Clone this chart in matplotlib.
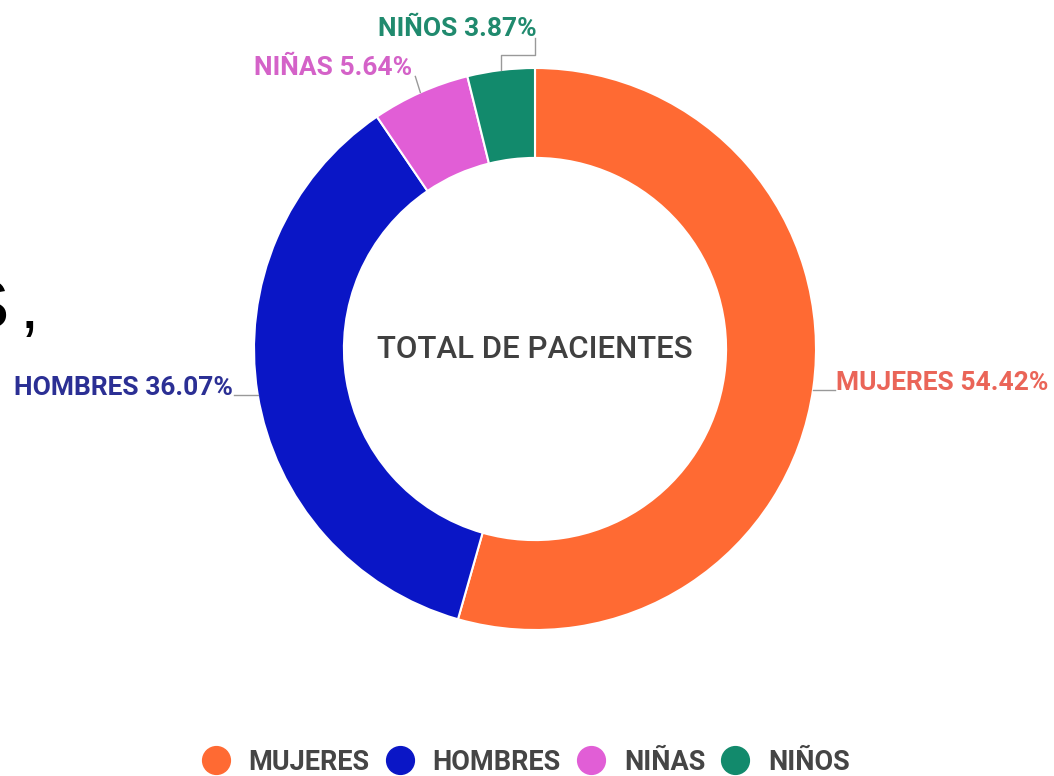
import numpy as np
import matplotlib
matplotlib.use("Agg")
import matplotlib.pyplot as plt
from matplotlib.lines import Line2D

categories = ["MUJERES", "HOMBRES", "NIÑAS", "NIÑOS"]
values = [54.42, 36.07, 5.64, 3.87]
colors = ["#FF6A33", "#0A16C6", "#E15ED6", "#128A6C"]
label_colors = ["#EA6558", "#2B2F94", "#D462C8", "#208A6E"]
center_title = "TOTAL DE PACIENTES"

W, H = 1054, 776
fig = plt.figure(figsize=(W / 100, H / 100), dpi=100)
ax = fig.add_axes([0, 0, 1, 1])
ax.set_xlim(0, W)
ax.set_ylim(0, H)
ax.set_aspect("equal")
ax.axis("off")

cx, cy, R = 535, H - 349, 281
wedges, _ = ax.pie(values, colors=colors, startangle=90, counterclock=False,
                   center=(cx, cy), radius=R, frame=True,
                   wedgeprops=dict(width=R * 0.32, edgecolor="white", linewidth=1.5))
ax.set_xlim(0, W)
ax.set_ylim(0, H)
ax.axis("off")

ax.text(cx, cy, center_title, ha="center", va="center", fontsize=22.5,
        family="Roboto", weight="medium", color="#404040")

fs = 19
lw = 1.0
for i, w in enumerate(wedges):
    ang = np.deg2rad((w.theta1 + w.theta2) / 2)
    px, py = cx + R * np.cos(ang), cy + R * np.sin(ang)
    txt = f"{categories[i]} {values[i]:.2f}%"
    lc = label_colors[i]
    if i == 0:
        ly = py - 2
        ax.plot([px, px + 22], [ly, ly], color="#999999", lw=lw)
        ax.text(px + 23, ly, txt, ha="left", va="baseline", fontsize=fs,
                family="Roboto", weight="bold", color=lc)
    elif i == 1:
        ly = py - 1
        ax.plot([px - 24, px], [ly, ly], color="#999999", lw=lw)
        ax.text(px - 25, ly, txt, ha="right", va="baseline", fontsize=fs,
                family="Roboto", weight="bold", color=lc)
    elif i == 2:
        ax.plot([px, px - 5], [py, py + 16], color="#999999", lw=lw)
        ax.text(px - 8, py + 24, txt, ha="right", va="center", fontsize=fs,
                family="Roboto", weight="bold", color=lc)
    else:
        ax.plot([px, px, px + 34, px + 34], [py, py + 15, py + 15, py + 32],
                color="#999999", lw=lw)
        ax.text(px + 36, py + 41, txt, ha="right", va="center", fontsize=fs,
                family="Roboto", weight="bold", color=lc)

handles = [Line2D([0], [0], marker="o", linestyle="", markersize=20,
                  markerfacecolor=c, markeredgecolor=c) for c in colors]
leg = fig.legend(handles, categories, loc="center", bbox_to_anchor=(0.499, 1 - 762 / H),
                 ncol=4, frameon=False, handletextpad=0.72, columnspacing=0.6,
                 handlelength=1.0,
                 prop=dict(family="Roboto", weight="bold", size=19.5))
for t in leg.get_texts():
    t.set_color("#454545")

fig.text(9 / W, 1 - 328 / H, "S", ha="right", va="baseline", fontsize=50,
         family="Liberation Sans", color="black")
fig.text(20 / W, 1 - 328 / H, ",", ha="left", va="baseline", fontsize=50,
         family="Liberation Sans", color="black")

fig.savefig("out.png", dpi=100)
